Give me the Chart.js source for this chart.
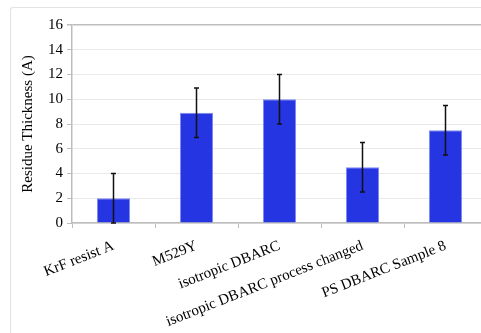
<!doctype html>
<html lang="en">
<head>
  <meta charset="utf-8" />
  <title>Residue Thickness</title>
  <style>
    html, body { margin: 0; padding: 0; overflow: hidden; background: #fff; }
    #frame { position: absolute; left: 10px; top: 7px; width: 600px; height: 400px;
             border-left: 1px solid #e2e2e2; border-top: 1px solid #e2e2e2; border-radius: 3px 0 0 0; }
    #canva { position: absolute; left: 0; top: 0; }
  </style>
</head>
<body>
<div id="frame"></div>
<div id="canva"><canvas id="myChart" width="500" height="333"></canvas></div>
<script src="https://cdn.jsdelivr.net/npm/chart.js@4"></script>

<script>
// values
var samples = ['KrF resist A', 'M529Y', 'isotropic DBARC', 'isotropic DBARC process changed', 'PS DBARC Sample 8'];
var thickness = [2, 8.9, 10, 4.5, 7.5];
var errUp = [2, 2, 2, 2, 2];
var errDown = [2, 2, 2, 2, 2];
var yTicks = [0, 2, 4, 6, 8, 10, 12, 14, 16];

var serif = 'Liberation Serif, Times New Roman, serif';

// error bars, drawn through the y scale
var errorBars = {
  id: 'errorBars',
  afterDatasetsDraw: function (chart) {
    var ctx = chart.ctx;
    var y = chart.scales.y;
    var meta = chart.getDatasetMeta(0);
    ctx.save();
    ctx.strokeStyle = '#111';
    ctx.lineWidth = 1.5;
    for (let i = 0; i < thickness.length; i++) {
      var x = meta.data[i].x;
      var yTop = y.getPixelForValue(thickness[i] + errUp[i]);
      var yBot = y.getPixelForValue(thickness[i] - errDown[i]);
      ctx.beginPath();
      ctx.moveTo(x, yTop); ctx.lineTo(x, yBot);
      ctx.moveTo(x - 2.5, yTop); ctx.lineTo(x + 2.5, yTop);
      ctx.moveTo(x - 2.5, yBot); ctx.lineTo(x + 2.5, yBot);
      ctx.stroke();
    }
    ctx.restore();
  }
};

function Draw() {
  const ctx = document.getElementById('myChart');
  const myChart = new Chart(ctx, {
    type: 'bar',
    data: {
      labels: samples,
      datasets: [{
        label: 'Residue Thickness',
        data: thickness,
        backgroundColor: '#2535e2',
        borderColor: '#7f88ee',
        borderWidth: 1,
        categoryPercentage: 1,
        barPercentage: 0.4,
      }]
    },
    options: {
      responsive: false,
      animation: false,
      devicePixelRatio: 1,
      layout: { padding: { top: 25, left: 0, right: 13, bottom: 0 } },
      plugins: {
        legend: { display: false },
        tooltip: { enabled: false },
      },
      scales: {
        x: {
          offset: true,
          grid: { offset: true, drawOnChartArea: false, tickLength: 5, tickColor: '#bdbdbd' },
          border: { color: '#bdbdbd', width: 1.5 },
          ticks: {
            color: '#000',
            font: { family: serif, size: 15 },
            minRotation: 21.5,
            maxRotation: 21.5,
            autoSkip: false,
            padding: 9,
          },
          afterFit: function (scale) { scale.height = 110; },
        },
        y: {
          min: 0,
          max: 16,
          afterBuildTicks: function (scale) { scale.ticks = yTicks.map(function (v) { return { value: v }; }); },
          grid: {
            color: function (c) { return c.tick && c.tick.value === 16 ? '#bdbdbd' : '#e9e9e9'; },
            lineWidth: function (c) { return c.tick && c.tick.value === 16 ? 1.5 : 1; },
            tickColor: '#bdbdbd',
            tickLength: 5,
          },
          border: { color: '#bdbdbd', width: 1.5 },
          ticks: { color: '#000', font: { family: serif, size: 15 }, padding: 4 },
          title: {
            display: true,
            text: 'Residue Thickness (A)',
            color: '#000',
            font: { family: serif, size: 15 },
            padding: { top: 19 },
          },
          afterFit: function (scale) { scale.width = 72; },
        }
      }
    },
    plugins: [errorBars]
  });
}
Draw();
</script>

</body>
</html>
